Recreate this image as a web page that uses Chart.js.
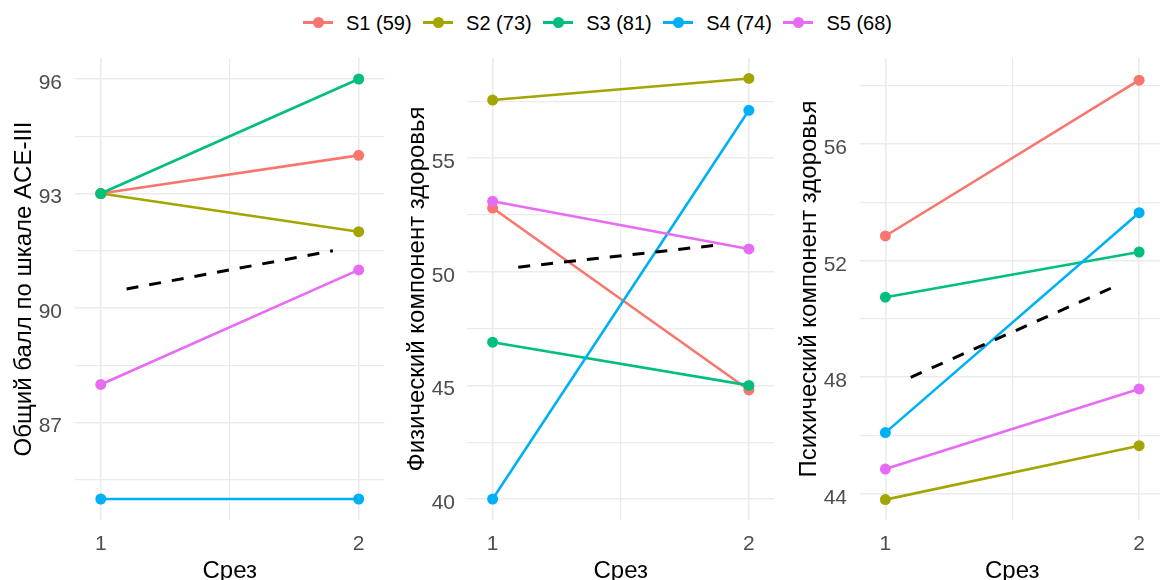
<!DOCTYPE html>
<html><head><meta charset="utf-8">
<script src="https://cdn.jsdelivr.net/npm/chart.js@4.4.1/dist/chart.umd.min.js"></script>
<style>
html,body{margin:0;padding:0;background:#fff;overflow:hidden;width:1160px;height:580px}
#wrap{position:relative;width:1160px;height:580px;overflow:hidden;background:#fff}
canvas{position:absolute;top:0}
#legend{position:absolute;left:303px;top:11px;height:24px;display:flex;align-items:center;font-family:"Liberation Sans",Arial,sans-serif;font-size:20px;color:#000;white-space:nowrap}
.item{display:flex;align-items:center;margin-right:11.5px}
.key{position:relative;width:30px;height:24px;margin-right:13px}
.key .ln{position:absolute;left:0;right:0;top:10px;height:2.6px}
.key .pt{position:absolute;left:9.5px;top:5.8px;width:11px;height:11px;border-radius:50%}
</style></head><body>
<div id="wrap">
<div id="legend"></div>
<canvas id="c1" width="390" height="580" style="left:0px"></canvas>
<canvas id="c2" width="390" height="580" style="left:390px"></canvas>
<canvas id="c3" width="390" height="580" style="left:780px"></canvas>
</div>
<script>
// ---- data ----
const cuts = [1, 2];                       // Срез
const seriesLabels = ['S1 (59)', 'S2 (73)', 'S3 (81)', 'S4 (74)', 'S5 (68)'];
const seriesColors = ['#F8766D', '#A3A500', '#00BF7D', '#00B0F6', '#E76BF3'];

// Общий балл по шкале ACE-III
const aceS1 = [93, 94];
const aceS2 = [93, 92];
const aceS3 = [93, 96];
const aceS4 = [85, 85];
const aceS5 = [88, 91];
const aceMeanX = [1.1, 1.9];
const aceMean = [90.5, 91.5];
const aceTicks = [87, 90, 93, 96];

// Физический компонент здоровья
const physS1 = [52.8, 44.8];
const physS2 = [57.55, 58.5];
const physS3 = [46.9, 45.0];
const physS4 = [40.0, 57.1];
const physS5 = [53.1, 51.0];
const physMeanX = [1.1, 1.9];
const physMean = [50.2, 51.2];
const physTicks = [40, 45, 50, 55];

// Психический компонент здоровья
const mentS1 = [52.85, 58.2];
const mentS2 = [43.8, 45.65];
const mentS3 = [50.75, 52.3];
const mentS4 = [46.1, 53.65];
const mentS5 = [44.85, 47.6];
const mentMeanX = [1.1, 1.9];
const mentMean = [48.0, 51.1];
const mentTicks = [44, 48, 52, 56];

// ---- legend ----
const leg = document.getElementById('legend');
seriesLabels.forEach((l, i) => {
  const it = document.createElement('div'); it.className = 'item';
  it.innerHTML = '<div class="key"><div class="ln" style="background:' + seriesColors[i] + '"></div><div class="pt" style="background:' + seriesColors[i] + '"></div></div><span>' + l + '</span>';
  leg.appendChild(it);
});

const FAMILY = '"Liberation Sans", Arial, sans-serif';

function withMinor(majors, lo, hi) {
  const step = majors[1] - majors[0];
  const out = [];
  majors.forEach(t => {
    out.push({value: t});
    out.push({value: t - step / 2, minor: true});
  });
  out.push({value: majors[majors.length - 1] + step / 2, minor: true});
  return out.filter(t => t.value >= lo && t.value <= hi).sort((a, b) => a.value - b.value);
}

function makePanel(id, series, meanX, meanY, yMin, yMax, majors, title, cfg) {
  const datasets = series.map((v, i) => ({
    label: seriesLabels[i],
    data: cuts.map((x, j) => ({x: x, y: v[j]})),
    borderColor: seriesColors[i],
    backgroundColor: seriesColors[i],
    borderWidth: 2.6,
    pointRadius: 5.5,
    pointHoverRadius: 5.5,
    pointBorderWidth: 0,
    order: series.length - i
  }));
  datasets.push({
    label: 'mean',
    data: meanX.map((x, j) => ({x: x, y: meanY[j]})),
    borderColor: '#000000',
    borderWidth: 3,
    borderDash: [12, 11],
    pointRadius: 0,
    order: 0
  });
  new Chart(document.getElementById(id), {
    type: 'line',
    data: {datasets: datasets},
    options: {
      responsive: false,
      animation: false,
      devicePixelRatio: 1,
      layout: {padding: {left: 0, right: cfg.padRight, top: 58, bottom: 0}},
      plugins: {legend: {display: false}, tooltip: {enabled: false}},
      scales: {
        x: {
          type: 'linear', min: 0.9, max: 2.1,
          afterBuildTicks: s => { s.ticks = [{value: cuts[0]}, {value: (cuts[0] + cuts[1]) / 2, minor: true}, {value: cuts[1]}]; },
          afterFit: s => { s.height = 60; },
          grid: {color: '#EBEBEB', lineWidth: c => (c.tick && c.tick.minor) ? 1.2 : 1.6, drawTicks: false},
          border: {display: false},
          ticks: {color: '#4D4D4D', font: {family: FAMILY, size: 21}, padding: 12, maxRotation: 0, autoSkip: false,
            callback: (v, i, t) => t[i].minor ? '' : String(v)},
          title: {display: true, text: 'Срез', color: '#000', font: {family: FAMILY, size: 24, lineHeight: 1}, padding: {top: 0, bottom: -3}}
        },
        y: {
          type: 'linear', min: yMin, max: yMax,
          afterBuildTicks: s => { s.ticks = withMinor(majors, yMin, yMax); },
          afterFit: s => { s.width = cfg.axisWidth; },
          grid: {color: '#EBEBEB', lineWidth: c => (c.tick && c.tick.minor) ? 1.2 : 1.6, drawTicks: false},
          border: {display: false},
          ticks: {color: '#4D4D4D', font: {family: FAMILY, size: 21}, padding: cfg.tickPad, labelOffset: 4, autoSkip: false,
            callback: (v, i, t) => t[i].minor ? '' : String(v)},
          title: {display: true, text: title, color: '#000', font: {family: FAMILY, size: 24, lineHeight: 1}, padding: {top: cfg.titlePad, bottom: 0}}
        }
      }
    }
  });
}

makePanel('c1', [aceS1, aceS2, aceS3, aceS4, aceS5], aceMeanX, aceMean, 84.45, 96.55, aceTicks,
  'Общий балл по шкале ACE-III', {axisWidth: 75, tickPad: 13, titlePad: 12, padRight: 5});
makePanel('c2', [physS1, physS2, physS3, physS4, physS5], physMeanX, physMean, 39.08, 59.4, physTicks,
  'Физический компонент здоровья', {axisWidth: 77, tickPad: 12, titlePad: 15, padRight: 2.5});
makePanel('c3', [mentS1, mentS2, mentS3, mentS4, mentS5], mentMeanX, mentMean, 43.1, 58.96, mentTicks,
  'Психический компонент здоровья', {axisWidth: 80, tickPad: 13, titlePad: 17, padRight: 0});
</script>
</body></html>
